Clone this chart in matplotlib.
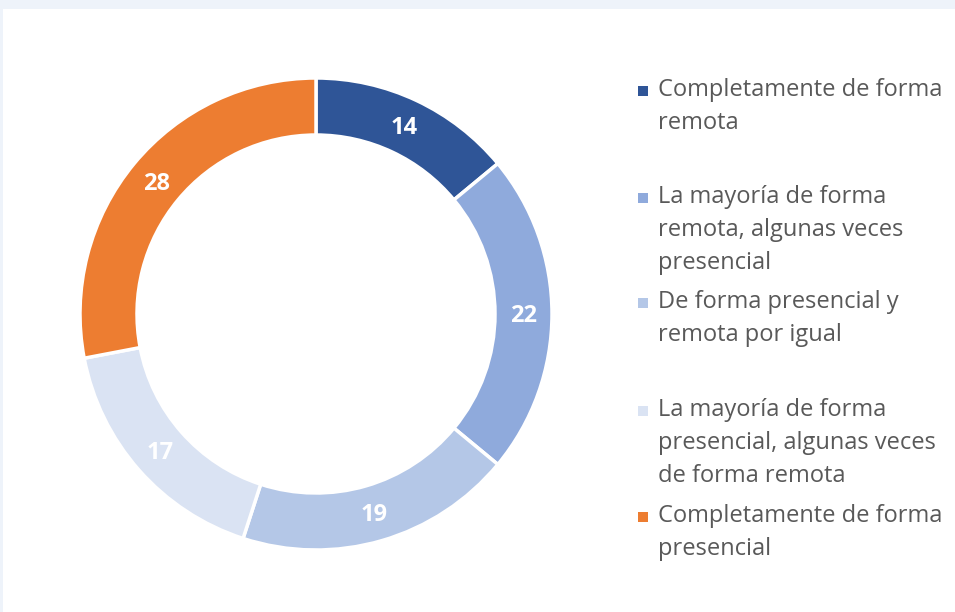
import numpy as np
import matplotlib.pyplot as plt
from matplotlib.patches import Rectangle

categories = [
    "Completamente de forma\nremota",
    "La mayoría de forma\nremota, algunas veces\npresencial",
    "De forma presencial y\nremota por igual",
    "La mayoría de forma\npresencial, algunas veces\nde forma remota",
    "Completamente de forma\npresencial",
]
values = [14, 22, 19, 17, 28]
colors = ["#2f5597", "#8faadc", "#b4c7e7", "#dae3f3", "#ed7d31"]

W, H = 955, 612
fig = plt.figure(figsize=(W / 100, H / 100), dpi=100)
fig.patch.set_facecolor("#eef3fa")
ax = fig.add_axes([0, 0, 1, 1])

# white panel
ax.add_patch(Rectangle((3, 0), W - 3, H - 9, facecolor="white", edgecolor="none", zorder=0))

cx, cy, R = 316, H - 314, 236
width = 57
wedges, _ = ax.pie(values, colors=colors, startangle=90, counterclock=False,
                   center=(cx, cy), radius=R, frame=True,
                   wedgeprops=dict(width=width, edgecolor="white", linewidth=2.5))
ax.set_xlim(0, W)
ax.set_ylim(0, H)
ax.set_aspect("equal")
ax.axis("off")

# value labels in the middle of the ring
total = sum(values)
start = 90.0
rmid = R - width / 2
for v in values:
    ang = np.deg2rad(start - v / total * 360 / 2)
    start -= v / total * 360
    ax.text(cx + rmid * np.cos(ang), cy + rmid * np.sin(ang) - 2, str(v),
            ha="center", va="center", color="white", fontsize=17,
            fontweight="bold", family="Open Sans")

# legend
first_lines = [90, 197, 302, 410, 516]
line_h = 33
for lab, c, y in zip(categories, colors, first_lines):
    ax.add_patch(Rectangle((638, H - y - 6), 10, 10, facecolor=c, edgecolor="none"))
    for i, line in enumerate(lab.split("\n")):
        ax.text(658, H - y - i * line_h, line, ha="left", va="center",
                fontsize=17, color="#595959", family="Open Sans")

fig.savefig("out.png", dpi=100, facecolor=fig.get_facecolor())
